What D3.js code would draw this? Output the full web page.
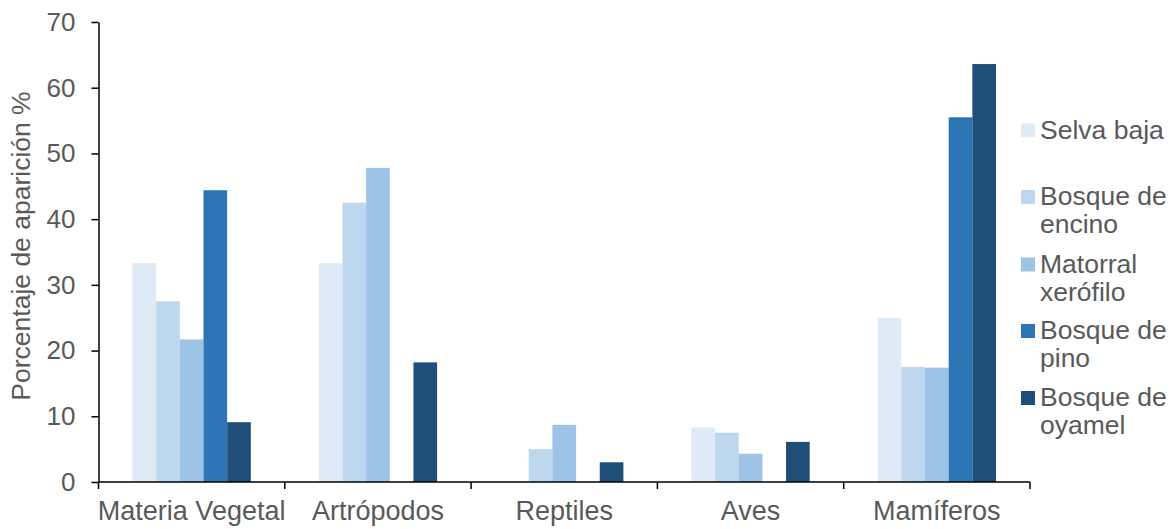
<!DOCTYPE html>
<html>
<head>
<meta charset="utf-8">
<title>Porcentaje de aparición</title>
<script src="https://cdn.jsdelivr.net/npm/d3@7"></script>
<style>
  body { margin: 0; background: #fff; }
  text { font-family: "Liberation Sans", Arial, sans-serif; fill: #595959; }
  .axis path, .axis line { stroke: #000; stroke-width: 1.5; }
</style>
</head>
<body>
<svg width="1176" height="529"></svg>
<script>
  var categories = ["Materia Vegetal", "Artrópodos", "Reptiles", "Aves", "Mamíferos"];
  var series = ["Selva baja", "Bosque de encino", "Matorral xerófilo", "Bosque de pino", "Bosque de oyamel"];
  var legendLines = [["Selva baja"], ["Bosque de", "encino"], ["Matorral", "xerófilo"], ["Bosque de", "pino"], ["Bosque de", "oyamel"]];
  var colors = ["#deebf7", "#bdd7ee", "#9dc3e6", "#2e75b6", "#1f4e79"];

  // values per series, in category order
  var selvaBaja = [33.3, 33.3, 0, 8.3, 25.0];
  var bosqueEncino = [27.5, 42.5, 5.0, 7.5, 17.5];
  var matorral = [21.7, 47.8, 8.7, 4.3, 17.4];
  var bosquePino = [44.4, 0, 0, 0, 55.5];
  var bosqueOyamel = [9.1, 18.2, 3.0, 6.1, 63.6];
  var values = [selvaBaja, bosqueEncino, matorral, bosquePino, bosqueOyamel];

  var yTicks = [0, 10, 20, 30, 40, 50, 60, 70];

  var svg = d3.select("svg");
  var mLeft = 98.5, mRight = 1030, mTop = 22, mBottom = 482;

  var x = d3.scaleBand().domain(categories).range([mLeft, mRight]);
  var bw = x.bandwidth();
  var xInner = d3.scaleBand().domain(series).range([34, bw - 34]);
  var y = d3.scaleLinear().domain([0, 70]).range([mBottom, mTop]);
  var color = d3.scaleOrdinal().domain(series).range(colors);

  // bars
  var groups = svg.selectAll("g.cat")
    .data(categories)
    .enter().append("g")
    .attr("class", "cat")
    .attr("transform", function(d) { return "translate(" + x(d) + ",0)"; });

  groups.selectAll("rect")
    .data(function(c, ci) {
      return series.map(function(s, si) { return { s: s, v: values[si][ci] }; })
        .filter(function(d) { return d.v > 0; });
    })
    .enter().append("rect")
    .attr("x", function(d) { return xInner(d.s); })
    .attr("width", xInner.bandwidth())
    .attr("y", function(d) { return y(d.v); })
    .attr("height", function(d) { return mBottom - y(d.v); })
    .attr("fill", function(d) { return color(d.s); });

  // y axis
  var yAxis = svg.append("g")
    .attr("class", "axis")
    .attr("transform", "translate(" + mLeft + ",0)")
    .call(d3.axisLeft(y).tickValues(yTicks).tickSize(7).tickPadding(16).tickSizeOuter(0));
  yAxis.selectAll("text").style("font-size", "26px").attr("fill", "#595959")
    .attr("font-family", null);

  // x axis with ticks at category boundaries
  var xAxis = svg.append("g")
    .attr("class", "axis")
    .attr("transform", "translate(0," + mBottom + ")");
  xAxis.append("line").attr("x1", mLeft).attr("x2", mRight);
  xAxis.selectAll("line.tick")
    .data(categories.concat(["end"]))
    .enter().append("line")
    .attr("class", "tick")
    .attr("x1", function(d, i) { return i < categories.length ? x(d) : mRight; })
    .attr("x2", function(d, i) { return i < categories.length ? x(d) : mRight; })
    .attr("y1", 0).attr("y2", 7);
  xAxis.selectAll("text")
    .data(categories)
    .enter().append("text")
    .attr("x", function(d) { return x(d) + bw / 2; })
    .attr("y", 38)
    .attr("text-anchor", "middle")
    .style("font-size", "27px")
    .text(function(d) { return d; });

  // y title
  svg.append("text")
    .attr("transform", "translate(30," + ((mTop + mBottom) / 2 - 6) + ") rotate(-90)")
    .attr("text-anchor", "middle")
    .style("font-size", "26.5px")
    .text("Porcentaje de aparición %");

  // legend
  var legendY = [123.5, 190, 257.5, 324, 391];
  var legend = svg.selectAll("g.legend")
    .data(series)
    .enter().append("g")
    .attr("class", "legend")
    .attr("transform", function(d, i) { return "translate(1021," + legendY[i] + ")"; });
  legend.append("rect")
    .attr("width", 14).attr("height", 14)
    .attr("fill", function(d) { return color(d); });
  legend.each(function(d, i) {
    var t = d3.select(this).append("text")
      .attr("x", 19).attr("y", 15)
      .style("font-size", "26.5px");
    legendLines[i].forEach(function(line, j) {
      t.append("tspan").attr("x", 19).attr("dy", j === 0 ? 0 : 28).text(line);
    });
  });
</script>
</body>
</html>
